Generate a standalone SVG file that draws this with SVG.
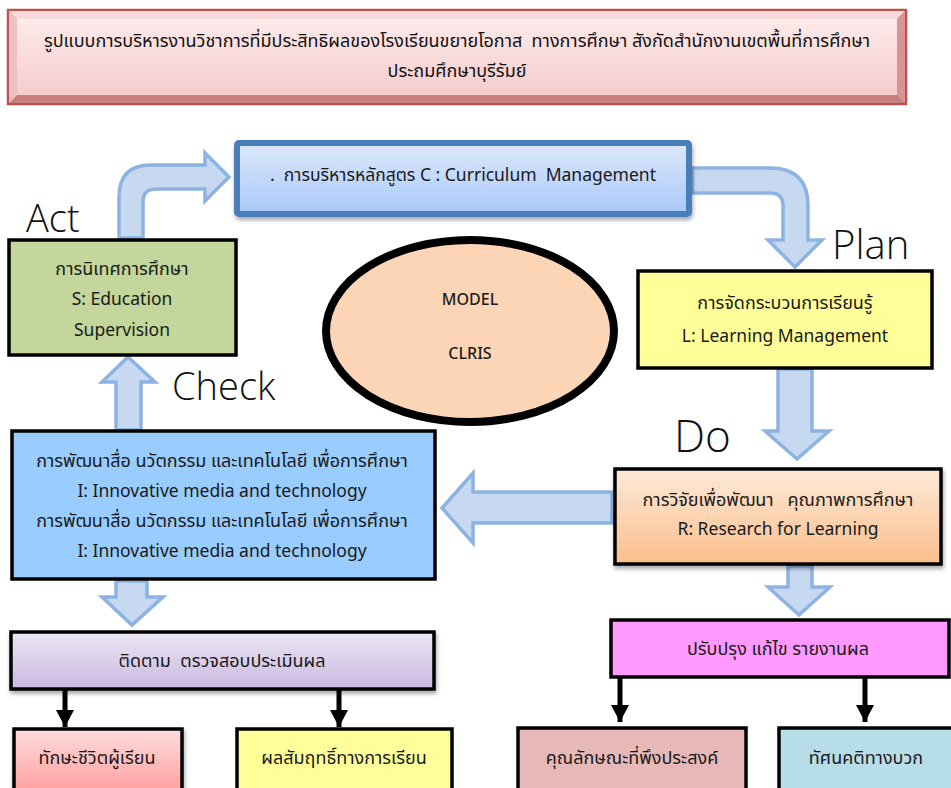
<svg xmlns="http://www.w3.org/2000/svg" width="951" height="788" viewBox="0 0 951 788">
<style>
text{white-space:pre}
.t{font-family:"Noto Sans Thai","Noto Sans","Open Sans","DejaVu Sans",sans-serif;font-size:17.5px;fill:#1a1a1a;text-anchor:middle}
.th{font-size:18px}
.lbl{font-family:"Open Sans","Noto Sans",sans-serif;font-weight:300;fill:#111}
.box{stroke:#000;stroke-width:3.5}
.fat{fill:#c6d9f1;stroke:#8db3e2;stroke-width:3.5;stroke-linejoin:miter}
.con{stroke:#000;stroke-width:5;fill:none}
.tt{font-family:"Noto Sans Thai","Noto Sans","DejaVu Sans",sans-serif;font-size:18px;fill:#111;text-anchor:middle}
</style>
<defs>
<linearGradient id="gTitle" x1="0" y1="0" x2="0" y2="1"><stop offset="0" stop-color="#fdeaea"/><stop offset="1" stop-color="#f6cccc"/></linearGradient>
<linearGradient id="gCur" x1="0" y1="0" x2="0" y2="1"><stop offset="0" stop-color="#dce8fb"/><stop offset="1" stop-color="#a9c9f9"/></linearGradient>
<linearGradient id="gR" x1="0" y1="0" x2="0" y2="1"><stop offset="0" stop-color="#fde9d9"/><stop offset="1" stop-color="#fbbf8c"/></linearGradient>
<linearGradient id="gEv" x1="0" y1="0" x2="0" y2="1"><stop offset="0" stop-color="#ece6f5"/><stop offset="1" stop-color="#c9b9df"/></linearGradient>
<linearGradient id="gSk" x1="0" y1="0" x2="0" y2="1"><stop offset="0" stop-color="#ffdcdc"/><stop offset="1" stop-color="#ff9e9e"/></linearGradient>
<filter id="sh" x="-5%" y="-10%" width="110%" height="130%"><feDropShadow dx="1" dy="3" stdDeviation="2" flood-color="#000" flood-opacity="0.35"/></filter>
<marker id="ah" viewBox="0 0 17 18" refX="17" refY="9" markerWidth="17" markerHeight="18" markerUnits="userSpaceOnUse" orient="auto"><path d="M0,0 L17,9 L0,18 Z" fill="#000"/></marker>
</defs>
<rect width="951" height="788" fill="#fff"/>

<g id="title">
<rect x="8" y="10" width="898" height="94" fill="#e9a3a3" stroke="#c0504d" stroke-width="2.5"/>
<polygon points="9,11 905,11 897,19 17,19" fill="#f7dada"/>
<polygon points="9,103 905,103 897,95 17,95" fill="#c97f7f"/>
<polygon points="905,11 905,103 897,95 897,19" fill="#d89494"/>
<polygon points="9,11 9,103 17,95 17,19" fill="#f0c0c0"/>
<rect x="17" y="19" width="880" height="76" fill="url(#gTitle)"/>
<text class="tt" x="457" y="47">รูปแบบการบริหารงานวิชาการที่มีประสิทธิผลของโรงเรียนขยายโอกาส  ทางการศึกษา สังกัดสำนักงานเขตพื้นที่การศึกษา</text>
<text class="tt" x="457" y="77">ประถมศึกษาบุรีรัมย์</text>
</g>

<g id="connectors">
<path class="fat" d="M119,238 L119,197 Q119,165 151,165 L205,165 L205,153 L229,177 L205,201 L205,189 L156,189 Q143,189 143,202 L143,238 Z"/>
<path class="fat" d="M692,168 L770,168 Q808,168 808,206 L808,240 L822,240 L795,267 L768,240 L783,240 L783,206 Q783,193 770,193 L692,193 Z"/>
<path class="fat" d="M778,369 L812,369 L812,431 L829,431 L797,459 L765,431 L778,431 Z"/>
<path class="fat" d="M612,492 L473,492 L473,473 L442,508 L473,543 L473,523 L612,523 Z"/>
<path class="fat" d="M788,566 L812,566 L812,587 L830,587 L799,615 L768,587 L788,587 Z"/>
<path class="fat" d="M116,430 L116,382 L102,382 L128,357 L155,382 L141,382 L141,430 Z"/>
<path class="fat" d="M116,581 L147,581 L147,597 L163,597 L132,625 L102,597 L116,597 Z"/>
<line class="con" x1="65" y1="690" x2="65" y2="727" marker-end="url(#ah)"/>
<line class="con" x1="339" y1="690" x2="339" y2="727" marker-end="url(#ah)"/>
<line class="con" x1="620" y1="677" x2="620" y2="722" marker-end="url(#ah)"/>
<line class="con" x1="865" y1="677" x2="865" y2="722" marker-end="url(#ah)"/>
</g>

<g id="labels">
<text class="lbl" x="26" y="232" font-size="38">Act</text>
<text class="lbl" x="832" y="259" font-size="40">Plan</text>
<text class="lbl" x="172" y="400" font-size="38">Check</text>
<text class="lbl" x="674" y="452" font-size="44">Do</text>
</g>

<g id="curriculum">
<rect x="237" y="143" width="452" height="71" fill="url(#gCur)" stroke="#4a7ebb" stroke-width="6" rx="2" filter="url(#sh)"/>
<text class="t" x="270" y="181" style="text-anchor:start">.  การบริหารหลักสูตร C : Curriculum  Management</text>
</g>

<g id="act">
<rect class="box" x="9" y="240" width="227" height="115" fill="#c3d69b"/>
<text class="t th" x="122" y="275">การนิเทศการศึกษา</text>
<text class="t" x="122" y="305">S: Education</text>
<text class="t" x="122" y="336">Supervision</text>
</g>

<g id="model">
<ellipse cx="470" cy="331" rx="144" ry="91" fill="#fbd5b5" stroke="#000" stroke-width="8"/>
<text class="t" x="470" y="305" style="font-weight:500;font-size:16px">MODEL</text>
<text class="t" x="470" y="359" style="font-weight:500;font-size:16px">CLRIS</text>
</g>

<g id="plan">
<rect class="box" x="638" y="271" width="294" height="97" fill="#ffff99"/>
<text class="t th" x="785" y="309">การจัดกระบวนการเรียนรู้</text>
<text class="t" x="785" y="342">L: Learning Management</text>
</g>

<g id="innovation">
<rect class="box" x="12" y="431" width="423" height="148" fill="#99ccff"/>
<text class="t th" x="222" y="467">การพัฒนาสื่อ นวัตกรรม และเทคโนโลยี เพื่อการศึกษา</text>
<text class="t" x="222" y="497">I: Innovative media and technology</text>
<text class="t th" x="222" y="527">การพัฒนาสื่อ นวัตกรรม และเทคโนโลยี เพื่อการศึกษา</text>
<text class="t" x="222" y="557">I: Innovative media and technology</text>
</g>

<g id="research">
<rect class="box" x="615" y="469" width="326" height="95" fill="url(#gR)" filter="url(#sh)"/>
<text class="t th" x="778" y="506">การวิจัยเพื่อพัฒนา   คุณภาพการศึกษา</text>
<text class="t" x="778" y="535">R: Research for Learning</text>
</g>

<g id="evaluation">
<rect class="box" x="11" y="632" width="423" height="57" fill="url(#gEv)" filter="url(#sh)"/>
<text class="t th" x="222" y="667">ติดตาม  ตรวจสอบประเมินผล</text>
</g>

<g id="improve">
<rect class="box" x="611" y="620" width="338" height="57" fill="#ff99ff"/>
<text class="t th" x="778" y="655">ปรับปรุง แก้ไข รายงานผล</text>
</g>

<g id="lifeskill">
<rect class="box" x="14" y="729" width="168" height="64" fill="url(#gSk)" filter="url(#sh)"/>
<text class="t th" x="97" y="764">ทักษะชีวิตผู้เรียน</text>
</g>

<g id="achievement">
<rect class="box" x="237" y="729" width="215" height="64" fill="#ffff99"/>
<text class="t th" x="344" y="764">ผลสัมฤทธิ์ทางการเรียน</text>
</g>

<g id="character">
<rect class="box" x="518" y="728" width="228" height="65" fill="#e6b9b8"/>
<text class="t th" x="632" y="764">คุณลักษณะที่พึงประสงค์</text>
</g>

<g id="attitude">
<rect class="box" x="779" y="728" width="175" height="65" fill="#b7dde8"/>
<text class="t th" x="866" y="764">ทัศนคติทางบวก</text>
</g>
</svg>
